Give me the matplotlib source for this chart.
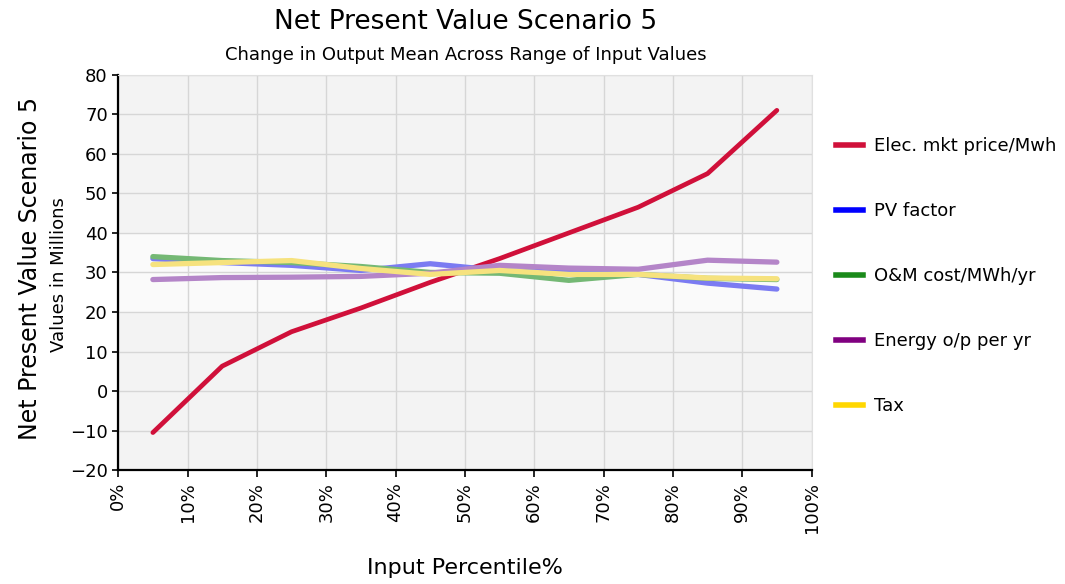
import matplotlib
matplotlib.use("Agg")
import matplotlib.pyplot as plt
from matplotlib.lines import Line2D
from matplotlib.ticker import FuncFormatter

# input percentiles (midpoints of each 10% bin)
pct = [5, 15, 25, 35, 45, 55, 65, 75, 85, 95]

elec_price = [-10.5, 6.3, 15.0, 21.0, 27.5, 33.5, 40.0, 46.5, 55.0, 71.0]
pv_factor = [33.5, 32.5, 31.8, 30.5, 32.2, 30.5, 30.0, 29.5, 27.3, 25.8]
om_cost = [34.0, 33.0, 32.5, 31.5, 30.0, 29.8, 28.0, 29.5, 28.5, 28.2]
energy_op = [28.2, 28.7, 28.8, 29.0, 29.8, 31.8, 31.1, 30.8, 33.1, 32.6]
tax = [32.0, 32.5, 33.0, 31.0, 29.5, 30.5, 29.5, 29.5, 28.6, 28.4]

# name, values, line colour, legend colour
series = [
    ("Elec. mkt price/Mwh", elec_price, "#d0103a", "#d0103a"),
    ("PV factor", pv_factor, "#7b7bf2", "#0000ff"),
    ("O&M cost/MWh/yr", om_cost, "#74b874", "#1a8a1a"),
    ("Energy o/p per yr", energy_op, "#b485c8", "#800080"),
    ("Tax", tax, "#f6e27e", "#ffd700"),
]

plt.rcParams["font.family"] = ["DejaVu Sans"]

fig = plt.figure(figsize=(10.65, 5.84), dpi=100)
ax = fig.add_axes([0.111, 0.195, 0.651, 0.677])

ax.set_facecolor("#f3f3f3")
ax.axhspan(20, 40, color="#fafafa", zorder=0)
ax.grid(True, color="#d6d6d6", linewidth=1.0, zorder=1)
ax.set_axisbelow(True)

# plotted in legend order, later series on top
for i, (name, vals, col, _) in enumerate(series):
    lw = 3.4 if i == 0 else 3.8
    ax.plot(pct, vals, color=col, linewidth=lw,
            solid_capstyle="round", zorder=3 + i)

ax.set_xlim(0, 100)
ax.set_ylim(-20, 80)
ax.set_xticks(range(0, 101, 10))
ax.set_yticks(range(-20, 81, 10))
ax.xaxis.set_major_formatter(FuncFormatter(lambda v, p: f"{int(v)}%"))
ax.tick_params(axis="x", labelrotation=90, labelsize=13, length=5, width=1.2)
ax.tick_params(axis="y", labelsize=13, length=4, width=1.2)

for s in ("left", "bottom"):
    ax.spines[s].set_color("black")
    ax.spines[s].set_linewidth(1.6)
for s in ("top", "right"):
    ax.spines[s].set_color("#e0e0e0")
    ax.spines[s].set_linewidth(0.8)

ax.set_xlabel("Input Percentile%", fontsize=16, labelpad=18)
fig.text(0.028, 0.54, "Net Present Value Scenario 5", rotation=90,
         fontsize=17, ha="center", va="center")
fig.text(0.055, 0.53, "Values in Millions", rotation=90,
         fontsize=13, ha="center", va="center")

fig.text(0.437, 0.962, "Net Present Value Scenario 5", fontsize=19,
         ha="center", va="center")
fig.text(0.437, 0.905, "Change in Output Mean Across Range of Input Values",
         fontsize=13, ha="center", va="center")

handles = [Line2D([], [], color=lc, linewidth=4) for *_, lc in series]
labels = [name for name, *_ in series]
ax.legend(handles, labels, loc="upper left", bbox_to_anchor=(1.025, 0.86),
          frameon=False, fontsize=13, handlelength=1.5, handletextpad=0.6,
          labelspacing=2.6, borderaxespad=0)

fig.savefig("out.png", dpi=100)
